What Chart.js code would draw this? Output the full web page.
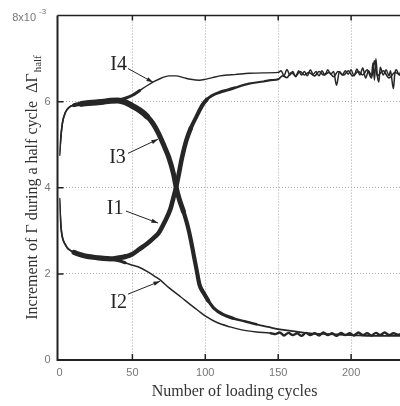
<!DOCTYPE html>
<html>
<head>
<meta charset="utf-8">
<script src="https://cdn.jsdelivr.net/npm/chart.js@4/dist/chart.umd.min.js"></script>
<style>
  body { margin: 0; overflow: hidden; background: #fff; }
  #chart { display: block; }
</style>
</head>
<body>
<canvas id="chart" width="430" height="406"></canvas>
<script>
// values, y in units of 1e-3
let i4Cycles = [0, 1, 2, 4, 7, 10, 15, 20, 25, 30, 35, 40, 45, 50, 55, 60, 65, 70, 75, 80, 85, 90, 96, 100, 105, 110, 115, 120, 130, 140, 150,
  152, 154, 156, 158, 160, 162, 164, 166, 168, 170, 172, 174, 176, 178, 180, 182, 184, 186, 188, 190, 192, 194, 196, 198, 200,
  202, 204, 206, 208, 210, 212, 214, 215, 216, 217, 218, 219, 220, 222, 224, 226, 227, 229, 230, 231, 233, 234];
let i4Values = [4.76, 5.2, 5.5, 5.75, 5.88, 5.92, 5.95, 5.97, 5.98, 6.0, 6.02, 6.04, 6.08, 6.15, 6.26, 6.37, 6.47, 6.55, 6.6, 6.6, 6.56, 6.52, 6.5, 6.52, 6.56, 6.6, 6.62, 6.63, 6.66, 6.67, 6.68,
  6.72, 6.6, 6.75, 6.62, 6.7, 6.58, 6.72, 6.62, 6.7, 6.6, 6.74, 6.64, 6.7, 6.6, 6.72, 6.62, 6.74, 6.64, 6.7, 6.38, 6.7, 6.62, 6.72, 6.64, 6.74,
  6.6, 6.76, 6.62, 6.78, 6.55, 6.72, 6.6, 6.9, 6.5, 7.0, 6.6, 6.46, 6.8, 6.62, 6.74, 6.6, 6.72, 6.3, 6.66, 6.74, 6.62, 6.7];

let i3Cycles = [0, 1, 2, 4, 7, 10, 15, 20, 25, 30, 35, 40, 45, 50, 55, 60, 64, 68, 72, 75, 78, 80, 82, 85, 88, 90, 92, 94, 96, 99, 102, 106, 112, 119, 127, 135, 143, 151, 160, 172, 185, 200, 215, 234];
let i3Values = [4.76, 5.2, 5.5, 5.75, 5.88, 5.92, 5.95, 5.97, 5.98, 6.0, 6.02, 6.03, 5.99, 5.9, 5.8, 5.66, 5.5, 5.26, 4.95, 4.7, 4.35, 4.02, 3.75, 3.45, 3.1, 2.8, 2.45, 2.1, 1.75, 1.55, 1.38, 1.2, 1.06, 0.97, 0.9, 0.83, 0.77, 0.71, 0.67, 0.62, 0.6, 0.58, 0.56, 0.56];

let i1Cycles = [0, 1, 2, 4, 6, 10, 15, 20, 25, 30, 35, 40, 45, 50, 55, 60, 65, 68, 72, 76, 78, 80, 82, 84, 87, 90, 94, 98, 101, 105, 110, 115, 120, 130, 140, 145,
  150, 153, 156, 159, 162, 165, 168, 171, 175, 178, 181, 185, 188, 191, 195, 198, 201, 205, 208, 211, 214, 216, 218, 222, 226, 230, 234];
let i1Values = [3.75, 3.1, 2.85, 2.68, 2.58, 2.5, 2.44, 2.4, 2.38, 2.36, 2.35, 2.37, 2.4, 2.46, 2.58, 2.7, 2.85, 2.95, 3.2, 3.5, 3.75, 4.02, 4.35, 4.7, 5.1, 5.38, 5.66, 5.92, 6.05, 6.15, 6.22, 6.27, 6.32, 6.42, 6.47, 6.5,
  6.52, 6.6, 6.56, 6.68, 6.6, 6.7, 6.62, 6.68, 6.6, 6.7, 6.62, 6.68, 6.58, 6.7, 6.62, 6.72, 6.6, 6.7, 6.62, 6.74, 6.55, 6.95, 6.6, 6.72, 6.55, 6.68, 6.62];

let i2Cycles = [0, 1, 2, 4, 6, 10, 15, 20, 25, 30, 35, 40, 45, 50, 55, 60, 65, 69, 75, 83, 90, 95, 101, 108, 117, 125, 135, 145,
  148, 151, 154, 157, 160, 163, 166, 169, 172, 175, 178, 181, 184, 187, 190, 193, 196, 199, 202, 205, 208, 211, 214, 217, 220, 223, 226, 229, 232, 234];
let i2Values = [3.75, 3.1, 2.85, 2.68, 2.58, 2.5, 2.44, 2.4, 2.38, 2.36, 2.34, 2.31, 2.26, 2.2, 2.15, 2.06, 1.95, 1.86, 1.68, 1.47, 1.28, 1.15, 1.0, 0.87, 0.77, 0.7, 0.65, 0.62,
  0.6, 0.64, 0.57, 0.63, 0.58, 0.62, 0.56, 0.63, 0.58, 0.62, 0.57, 0.64, 0.58, 0.62, 0.56, 0.63, 0.58, 0.62, 0.57, 0.64, 0.58, 0.62, 0.57, 0.63, 0.58, 0.64, 0.58, 0.62, 0.59, 0.6];

let xTicks = [0, 50, 100, 150, 200];
let yTicks = [0, 2, 4, 6];

// label text, label position and arrow (from -> to), all in data units
let labels = [
  { text: 'I4', x: 40.5, y: 6.88, from: [47, 6.77], to: [64.2, 6.45] },
  { text: 'I3', x: 39.8, y: 4.72, from: [47, 4.8], to: [67.6, 5.13] },
  { text: 'I1', x: 38.1, y: 3.54, from: [45.6, 3.46], to: [67.6, 3.18] },
  { text: 'I2', x: 40.5, y: 1.36, from: [47, 1.53], to: [69, 1.83] }
];

const ink = '#262626';

function toPoints(xs, ys) {
  return xs.map((x, i) => ({ x: x, y: ys[i] }));
}

function widthBy(steps) {
  // steps: [[untilX, width], ...]
  return ctx => {
    const x = ctx.p0.parsed.x;
    for (const s of steps) {
      if (x < s[0]) return s[1];
    }
    return steps[steps.length - 1][1];
  };
}

function makeSet(label, xs, ys, steps) {
  return {
    label: label,
    data: toPoints(xs, ys),
    borderColor: ink,
    borderWidth: 1.5,
    pointRadius: 0,
    cubicInterpolationMode: 'monotone',
    segment: { borderWidth: widthBy(steps) },
    borderJoinStyle: 'round',
    borderCapStyle: 'round'
  };
}

const extras = {
  id: 'extras',
  afterDraw(chart) {
    const ctx = chart.ctx;
    const xs = chart.scales.x, ys = chart.scales.y;
    const a = chart.chartArea;
    const axisX = a.left - 2;
    ctx.save();

    // axes
    ctx.strokeStyle = '#222';
    ctx.lineWidth = 2;
    ctx.beginPath();
    ctx.moveTo(axisX, a.top);
    ctx.lineTo(axisX, a.bottom);
    ctx.lineTo(a.right + 10, a.bottom);
    ctx.stroke();
    ctx.lineWidth = 1.5;
    ctx.beginPath();
    ctx.moveTo(axisX, a.top);
    ctx.lineTo(a.right + 10, a.top);
    ctx.stroke();

    // inside tick marks
    ctx.lineWidth = 1.5;
    ctx.beginPath();
    xTicks.forEach(v => {
      if (v === 0) return;
      const px = xs.getPixelForValue(v);
      ctx.moveTo(px, a.bottom);
      ctx.lineTo(px, a.bottom - 6);
      ctx.moveTo(px, a.top);
      ctx.lineTo(px, a.top + 5);
    });
    yTicks.forEach(v => {
      if (v === 0) return;
      const py = ys.getPixelForValue(v);
      ctx.moveTo(axisX, py);
      ctx.lineTo(axisX + 6, py);
    });
    ctx.stroke();

    // top tick label with exponent
    ctx.fillStyle = '#777';
    ctx.font = '11px "Liberation Sans"';
    ctx.textAlign = 'right';
    ctx.textBaseline = 'middle';
    ctx.fillText('8x10', 36, ys.getPixelForValue(8) + 2);
    ctx.font = '8px "Liberation Sans"';
    ctx.textAlign = 'left';
    ctx.fillText('-3', 39, ys.getPixelForValue(8) - 4);

    // axis titles
    ctx.fillStyle = '#333';
    ctx.font = '16px "Liberation Serif"';
    ctx.textAlign = 'center';
    ctx.textBaseline = 'alphabetic';
    ctx.fillText('Number of loading cycles', 234.5, 396);

    ctx.save();
    ctx.translate(37, 188);
    ctx.rotate(-Math.PI / 2);
    const main = 'Increment of Γ during a half cycle  ΔΓ';
    ctx.font = '16px "Liberation Serif"';
    const w1 = ctx.measureText(main).width;
    ctx.font = '11px "Liberation Serif"';
    const w2 = ctx.measureText('half').width;
    const start = -(w1 + w2) / 2;
    ctx.textAlign = 'left';
    ctx.font = '16px "Liberation Serif"';
    ctx.fillText(main, start, 0);
    ctx.font = '11px "Liberation Serif"';
    ctx.fillText('half', start + w1 + 1, 4);
    ctx.restore();

    // curve labels with arrows
    ctx.fillStyle = '#222';
    ctx.strokeStyle = '#222';
    ctx.lineWidth = 1;
    labels.forEach(l => {
      ctx.font = '20px "Liberation Serif"';
      ctx.textAlign = 'center';
      ctx.textBaseline = 'middle';
      ctx.fillText(l.text, xs.getPixelForValue(l.x), ys.getPixelForValue(l.y) + 1);
      const x0 = xs.getPixelForValue(l.from[0]), y0 = ys.getPixelForValue(l.from[1]);
      const x1 = xs.getPixelForValue(l.to[0]), y1 = ys.getPixelForValue(l.to[1]);
      const ang = Math.atan2(y1 - y0, x1 - x0);
      ctx.beginPath();
      ctx.moveTo(x0, y0);
      ctx.lineTo(x1, y1);
      ctx.stroke();
      ctx.beginPath();
      ctx.moveTo(x1, y1);
      ctx.lineTo(x1 - 7 * Math.cos(ang - 0.3), y1 - 7 * Math.sin(ang - 0.3));
      ctx.lineTo(x1 - 7 * Math.cos(ang + 0.3), y1 - 7 * Math.sin(ang + 0.3));
      ctx.closePath();
      ctx.fill();
    });

    ctx.restore();
  }
};

const gridColor = c => (c.tick && (c.tick.value === 0 || c.tick.value === 8)) ? 'rgba(0,0,0,0)' : '#aaa';

new Chart(document.getElementById('chart'), {
  type: 'line',
  data: {
    datasets: [
      makeSet('I4', i4Cycles, i4Values, [[9, 1.6], [55, 3], [150, 1.4], [999, 1.5]]),
      makeSet('I2', i2Cycles, i2Values, [[7, 1.6], [45, 3], [140, 1.5], [999, 2.4]]),
      makeSet('I1', i1Cycles, i1Values, [[7, 1.6], [10, 3.5], [45, 5.2], [90, 4.6], [100, 4], [120, 3], [150, 2.2], [999, 1.6]]),
      makeSet('I3', i3Cycles, i3Values, [[8, 1.6], [12, 4], [60, 6], [85, 5], [100, 4.2], [115, 3.2], [135, 2.4], [999, 1.8]])
    ]
  },
  options: {
    responsive: false,
    animation: false,
    layout: { padding: { left: 0, top: 15, right: 6, bottom: 0 } },
    plugins: { legend: { display: false }, tooltip: { enabled: false } },
    scales: {
      x: {
        type: 'linear',
        min: 0,
        max: 250,
        afterFit: s => { s.height = 46; },
        afterBuildTicks: s => { s.ticks = xTicks.map(v => ({ value: v })); },
        ticks: { color: '#777', font: { family: 'Liberation Sans', size: 11 }, padding: 6 },
        grid: { color: gridColor, lineWidth: 1, drawTicks: false },
        border: { display: false, dash: [1, 2] }
      },
      y: {
        min: 0,
        max: 8,
        afterFit: s => { s.width = 59.5; },
        afterBuildTicks: s => { s.ticks = yTicks.concat([8]).map(v => ({ value: v })); },
        ticks: {
          color: '#777',
          font: { family: 'Liberation Sans', size: 11 },
          padding: 9,
          callback: v => v === 8 ? '' : v
        },
        grid: { color: gridColor, lineWidth: 1, drawTicks: false },
        border: { display: false, dash: [1, 2] }
      }
    }
  },
  plugins: [extras]
});
</script>
</body>
</html>
